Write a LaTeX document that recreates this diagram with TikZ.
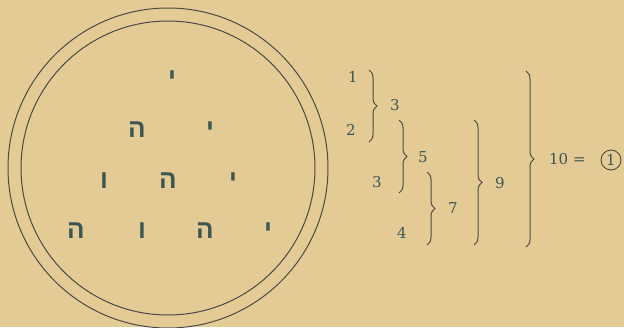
\documentclass[tikz,border=0pt]{standalone}
\usepackage{fontspec}
\usepackage{xcolor}
\usepackage{tikz}
\usetikzlibrary{decorations.pathreplacing}
\TeXXeTstate=1
\newfontfamily\hebfont[Script=Hebrew]{Liberation Sans}
\newfontfamily\numfont{DejaVu Serif}
\definecolor{paper}{HTML}{E4CB96}
\definecolor{ink}{HTML}{4A4A42}
\definecolor{letterink}{HTML}{3C5652}
\newcommand{\heb}[1]{{\hebfont\bfseries\beginR #1\endR}}

\begin{document}
\begin{tikzpicture}[x=1pt,y=-1pt,
    letter/.style={anchor=base,inner sep=0pt,text=letterink,font=\fontsize{26}{26}\selectfont},
    num/.style={inner sep=1pt,text=letterink,font=\numfont\fontsize{15}{15}\selectfont},
    brc/.style={draw=ink,line width=1pt,decorate,decoration={brace,amplitude=8pt}}]
  \useasboundingbox (0,0) rectangle (624,327);
  \fill[paper] (0,0) rectangle (624,327);
  % double ring
  \draw[ink,line width=1pt] (168,168) circle (160);
  \draw[ink,line width=1pt] (168,168) circle (147);
  % the name, row by row
  \node[letter] (y1) at (172,86) {\heb{י}};
  \node[letter] (h2) at (137,137) {\heb{ה}};
  \node[letter] (y2) at (210,137) {\heb{י}};
  \node[letter] (v3) at (104,188) {\heb{ו}};
  \node[letter] (h3) at (168,188) {\heb{ה}};
  \node[letter] (y3) at (233,188) {\heb{י}};
  \node[letter] (h4a) at (76,238) {\heb{ה}};
  \node[letter] (v4) at (142,238) {\heb{ו}};
  \node[letter] (h4b) at (205,238) {\heb{ה}};
  \node[letter] (y4) at (268,238) {\heb{י}};
  % counts
  \node[num] (n1) at (353,77) {1};
  \node[num] (n2) at (351,130) {2};
  \node[num] (n3) at (377,182) {3};
  \node[num] (n4) at (402,233) {4};
  \coordinate (b1t) at (369,70);
  \coordinate (b1b) at (369,142);
  \coordinate (b2t) at (399,120);
  \coordinate (b2b) at (399,193);
  \coordinate (b3t) at (427,172);
  \coordinate (b3b) at (427,245);
  \coordinate (b4t) at (474,120);
  \coordinate (b4b) at (474,245);
  \coordinate (b5t) at (526,71);
  \coordinate (b5b) at (526,247);
  \draw[brc] (b1t) -- (b1b);
  \draw[brc] (b2t) -- (b2b);
  \draw[brc] (b3t) -- (b3b);
  \draw[brc] (b4t) -- (b4b);
  \draw[brc] (b5t) -- (b5b);
  \node[num] (s3) at (395,105) {3};
  \node[num] (s5) at (423,157) {5};
  \node[num] (s7) at (453,208) {7};
  \node[num] (s9) at (500,183) {9};
  \node[num,anchor=west] (s10) at (548,159) {10 =};
  \node[num,draw=ink,line width=0.9pt,circle,minimum size=20pt,inner sep=0pt] (one) at (611,160) {1};
\end{tikzpicture}
\end{document}
